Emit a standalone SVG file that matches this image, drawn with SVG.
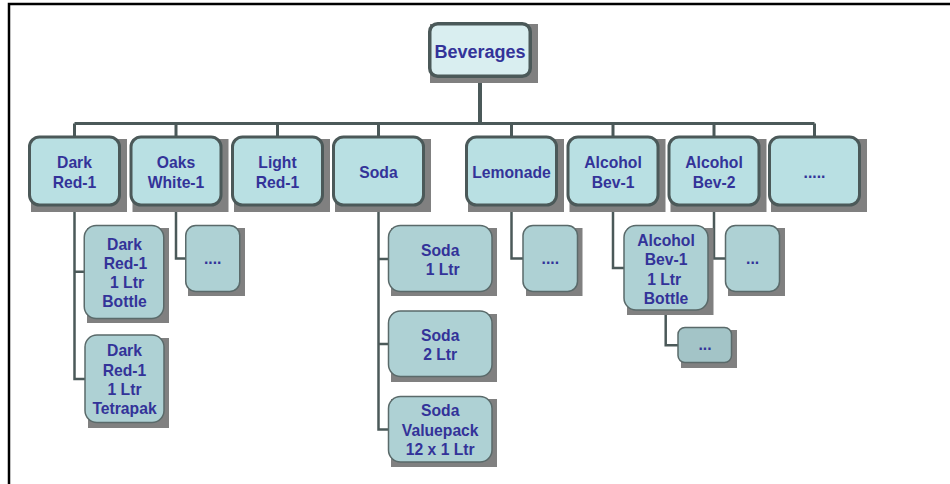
<svg xmlns="http://www.w3.org/2000/svg" width="950" height="484" viewBox="0 0 950 484">
<defs>
<style>
.frame{stroke:#000;stroke-width:2.5;fill:none}
.sh{fill:#808080}
.root{fill:#d9eef0;stroke:#4b5959;stroke-width:3.5}
.l1{fill:#b9e0e3;stroke:#4b5959;stroke-width:3}
.l2{fill:#aed1d4;stroke:#5a6a6a;stroke-width:1.5}
.l3{fill:#a3c4c7;stroke:#5a6a6a;stroke-width:1.5}
text{font-family:"Liberation Sans",Arial,sans-serif;font-weight:bold;font-size:15.7px;fill:#333399;text-anchor:middle}
.big{font-size:18px}
.c{fill:none;stroke:#4b5959;stroke-width:3}
.c2{fill:none;stroke:#4b5959;stroke-width:2.5}
</style>
</defs>
<rect width="950" height="484" fill="#fff"/>
<path class="frame" d="M9 484 V4 H950"/>
<g id="connectors">
<path class="c" d="M480 78 V123.5" style="stroke-width:4"/>
<path class="c" d="M74.5 123.5 H814.5 M74.5 123.5 V137 M176 123.5 V137 M277.5 123.5 V137 M378.5 123.5 V137 M511.5 123.5 V137 M613 123.5 V137 M714 123.5 V137 M814.5 123.5 V137"/>
<path class="c2" d="M74.5 207 V379 H85 M74.5 271.8 H84.5"/>
<path class="c2" d="M176 207 V258.5 H186"/>
<path class="c2" d="M378.5 207 V429.5 H389 M378.5 259 H389 M378.5 344 H389"/>
<path class="c2" d="M511.5 207 V258.5 H523.5"/>
<path class="c2" d="M613 207 V268 H624.5"/>
<path class="c2" d="M714 207 V258.5 H726"/>
<path class="c2" d="M665.7 310.7 V345.3 H678.5"/>
</g>
<g id="beverages">
<rect class="sh" x="430" y="24" width="108" height="59"/>
<rect class="root" x="429.75" y="23.75" width="100.5" height="52.5" rx="8"/>
<text class="big" x="480" y="57.5">Beverages</text>
</g>
<g id="dark-red-1">
<rect class="sh" x="31" y="139" width="96" height="73"/>
<rect class="l1" x="29.5" y="137" width="90" height="68" rx="10"/>
<text x="74.5" y="168.3">Dark</text><text x="74.5" y="188.3">Red-1</text>
</g>
<g id="oaks-white-1">
<rect class="sh" x="132.5" y="139" width="96" height="73"/>
<rect class="l1" x="131" y="137" width="90" height="68" rx="10"/>
<text x="176" y="168.3">Oaks</text><text x="176" y="188.3">White-1</text>
</g>
<g id="light-red-1">
<rect class="sh" x="234" y="139" width="96" height="73"/>
<rect class="l1" x="232.5" y="137" width="90" height="68" rx="10"/>
<text x="277.5" y="168.3">Light</text><text x="277.5" y="188.3">Red-1</text>
</g>
<g id="soda">
<rect class="sh" x="335" y="139" width="96" height="73"/>
<rect class="l1" x="333.5" y="137" width="90" height="68" rx="10"/>
<text x="378.5" y="178.3">Soda</text>
</g>
<g id="lemonade">
<rect class="sh" x="468" y="139" width="96" height="73"/>
<rect class="l1" x="466.5" y="137" width="90" height="68" rx="10"/>
<text x="511.5" y="178.3">Lemonade</text>
</g>
<g id="alcohol-bev-1">
<rect class="sh" x="569.5" y="139" width="96" height="73"/>
<rect class="l1" x="568" y="137" width="90" height="68" rx="10"/>
<text x="613" y="168.3">Alcohol</text><text x="613" y="188.3">Bev-1</text>
</g>
<g id="alcohol-bev-2">
<rect class="sh" x="670.5" y="139" width="96" height="73"/>
<rect class="l1" x="669" y="137" width="90" height="68" rx="10"/>
<text x="714" y="168.3">Alcohol</text><text x="714" y="188.3">Bev-2</text>
</g>
<g id="more-1">
<rect class="sh" x="771" y="139" width="96" height="73"/>
<rect class="l1" x="769.5" y="137" width="90" height="68" rx="10"/>
<text x="814.5" y="177.5">.....</text>
</g>
<g id="dark-red-1-bottle">
<rect class="sh" x="87" y="228" width="82" height="95"/>
<rect class="l2" x="84.25" y="225.5" width="79.5" height="93" rx="12"/>
<text x="124.5" y="249.5">Dark</text><text x="125.5" y="268.8">Red-1</text><text x="127" y="288.1">1 Ltr</text><text x="124.5" y="307.4">Bottle</text>
</g>
<g id="dark-red-1-tetrapak">
<rect class="sh" x="88" y="338" width="81" height="90"/>
<rect class="l2" x="85" y="335" width="79" height="87.5" rx="12"/>
<text x="124.5" y="356.3">Dark</text><text x="124.5" y="375.6">Red-1</text><text x="124.5" y="394.9">1 Ltr</text><text x="124.5" y="414.2">Tetrapak</text>
</g>
<g id="oaks-more">
<rect class="sh" x="188" y="228" width="57" height="68"/>
<rect class="l2" x="185.75" y="225.5" width="54" height="66" rx="10"/>
<text x="212.7" y="264">....</text>
</g>
<g id="soda-1-ltr">
<rect class="sh" x="391" y="228" width="106" height="68"/>
<rect class="l2" x="388.5" y="225.5" width="103.5" height="66" rx="12"/>
<text x="440.2" y="255.6">Soda</text><text x="442.7" y="274.8">1 Ltr</text>
</g>
<g id="soda-2-ltr">
<rect class="sh" x="391" y="314" width="106" height="68"/>
<rect class="l2" x="388.5" y="311" width="103.5" height="65.5" rx="12"/>
<text x="440.2" y="340.6">Soda</text><text x="440.2" y="360">2 Ltr</text>
</g>
<g id="soda-valuepack">
<rect class="sh" x="391" y="399" width="106" height="68"/>
<rect class="l2" x="388.5" y="396.5" width="103.5" height="65.5" rx="12"/>
<text x="440.2" y="416.3">Soda</text><text x="440.2" y="435.6">Valuepack</text><text x="440.2" y="454.9">12 x 1 Ltr</text>
</g>
<g id="lemonade-more">
<rect class="sh" x="526" y="228" width="56.5" height="68"/>
<rect class="l2" x="523" y="225.5" width="54.5" height="66" rx="10"/>
<text x="550.3" y="264">....</text>
</g>
<g id="alcohol-bev-1-bottle">
<rect class="sh" x="627" y="228" width="86.5" height="87"/>
<rect class="l2" x="624" y="225.5" width="84" height="84.5" rx="12"/>
<text x="666" y="246.3">Alcohol</text><text x="666" y="265.4">Bev-1</text><text x="664.2" y="284.5">1 Ltr</text><text x="666" y="303.6">Bottle</text>
</g>
<g id="alcohol-bev-2-more">
<rect class="sh" x="728" y="228" width="57" height="68"/>
<rect class="l2" x="725.5" y="225.5" width="54" height="66" rx="10"/>
<text x="752.6" y="264">...</text>
</g>
<g id="alcohol-bev-1-bottle-more">
<rect class="sh" x="681" y="330" width="56" height="38"/>
<rect class="l3" x="678" y="327.5" width="53.5" height="35" rx="7"/>
<text x="705" y="349.5">...</text>
</g>
</svg>
